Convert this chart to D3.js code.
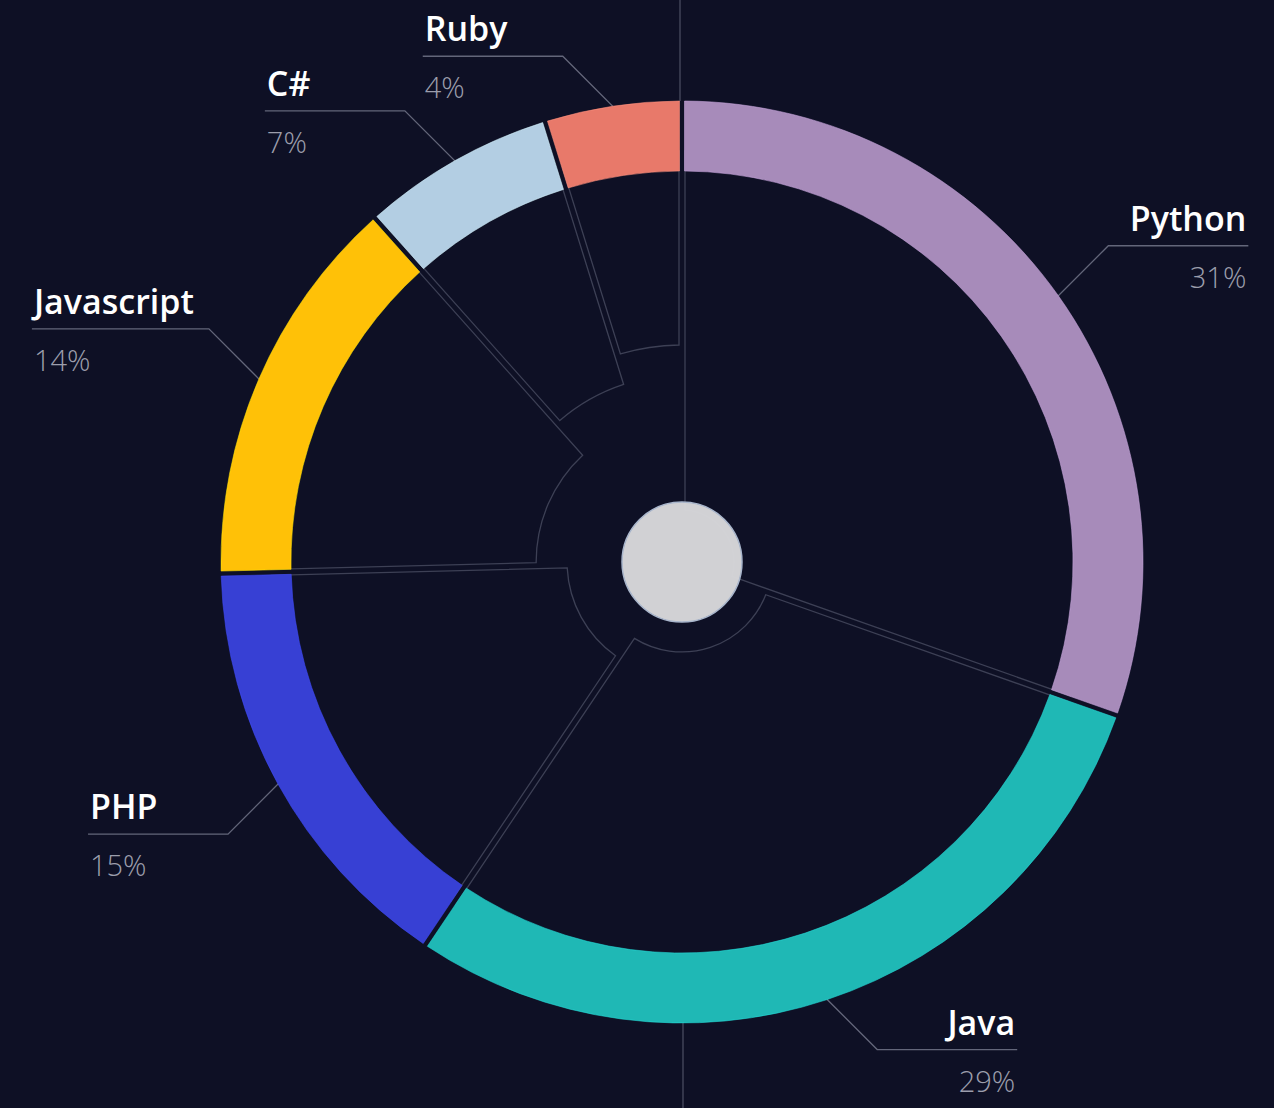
<!DOCTYPE html>
<html>
<head>
<meta charset="utf-8">
<script src="https://cdn.jsdelivr.net/npm/d3@7"></script>
<style>
  html, body { margin: 0; padding: 0; background: #0e1025; }
  #container { width: 1274px; height: 1108px; }
</style>
</head>
<body>
<div id="container"></div>
<script>
// data
const languages = ["Python", "Java", "PHP", "Javascript", "C#", "Ruby"];
const shares = [30.4, 29.0, 15.2, 13.8, 6.8, 4.8];
const shareLabels = ["31%", "29%", "15%", "14%", "7%", "4%"];
// depth of each inner wedge, in % of the ring's inner radius
const depths = [13.3, 23.0, 29.4, 37.3, 47.8, 55.5];
const palette = ["#a78bba", "#1fb8b5", "#3740d4", "#ffc107", "#b3cee3", "#e8796a"];

const width = 1274;
const height = 1108;
const rootElem = d3.select("#container").node();
renderDonut(rootElem, width, height);

function renderDonut(rootElem, width, height) {
  // settings
  const bg = "#0e1025";
  const cx = 682, cy = 562;
  const outerRadius = 461;
  const ringWidth = 70;
  const innerRadius = outerRadius - ringWidth;
  const hubRadius = 60;
  const gap = 5;

  const data = languages.map((name, i) => ({
    name, value: shares[i], label: shareLabels[i], depth: depths[i]
  }));

  const svg = d3.select(rootElem)
    .append("svg")
    .attr("width", width)
    .attr("height", height)
    .style("background", bg)
    .style("display", "block");

  // scales
  const scaleColor = d3.scaleOrdinal()
    .domain(languages)
    .range(palette);
  const scaleDepth = d3.scaleLinear()
    .domain([0, 100])
    .range([0, innerRadius]);

  const pie = d3.pie()
    .sort(null)
    .value(d => d.value);
  const arcs = pie(data);

  const ringArc = d3.arc()
    .innerRadius(innerRadius)
    .outerRadius(outerRadius)
    .padRadius(outerRadius)
    .padAngle(gap / outerRadius);
  const wedgeArc = d3.arc()
    .innerRadius(d => scaleDepth(d.data.depth))
    .outerRadius(innerRadius + 20)
    .padRadius(outerRadius)
    .padAngle(6 / outerRadius);

  // groups
  const groupAxis = svg.append("g").attr("class", "groupAxis");
  const groupLeaders = svg.append("g").attr("class", "groupLeaders");
  const groupWedges = svg.append("g").attr("class", "groupWedges")
    .attr("transform", `translate(${cx}, ${cy})`);
  const groupRing = svg.append("g").attr("class", "groupRing")
    .attr("transform", `translate(${cx}, ${cy})`);
  const groupLabels = svg.append("g").attr("class", "groupLabels");

  // vertical guide above and below the ring
  groupAxis.selectAll("line")
    .data([[0, cy - outerRadius], [cy + outerRadius, height]])
    .join("line")
    .attr("x1", (d, i) => cx - 2 + i * 3)
    .attr("x2", (d, i) => cx - 2 + i * 3)
    .attr("y1", d => d[0])
    .attr("y2", d => d[1])
    .attr("stroke", "#4d5064")
    .attr("stroke-width", 1.2);

  // inner wedges, outline only
  groupWedges.selectAll("path")
    .data(arcs)
    .join("path")
    .attr("d", wedgeArc)
    .attr("fill", bg)
    .attr("stroke", "#3d4055")
    .attr("stroke-width", 1.3);

  // ring
  groupRing.selectAll("path")
    .data(arcs)
    .join("path")
    .attr("d", ringArc)
    .attr("fill", d => scaleColor(d.data.name))
    .attr("stroke", d => d3.color(scaleColor(d.data.name)).brighter(0.5))
    .attr("stroke-opacity", 0.55)
    .attr("stroke-width", 1);

  // hub
  groupRing.append("circle")
    .attr("r", hubRadius)
    .attr("fill", "#d5d5d8")
    .attr("fill-opacity", 0.98)
    .attr("stroke", "#a9b6cc")
    .attr("stroke-width", 1.5);

  // labels with elbow leaders
  const diag = 50;
  const minRun = 140;
  arcs.forEach(d => {
    const a = (d.startAngle + d.endAngle) / 2;
    const sx = Math.sin(a) >= 0 ? 1 : -1;
    const sy = -Math.cos(a) >= 0 ? 1 : -1;
    const x0 = cx + outerRadius * Math.sin(a);
    const y0 = cy - outerRadius * Math.cos(a);
    const x1 = x0 + sx * diag;
    const y1 = y0 + sy * diag;

    const g = groupLabels.append("g");
    const name = g.append("text")
      .text(d.data.name)
      .attr("y", y1 - 15)
      .attr("fill", "#ffffff")
      .style("font-family", "'Open Sans', 'DejaVu Sans', sans-serif")
      .style("font-weight", 600)
      .style("font-size", "34px")
      .style("text-anchor", sx > 0 ? "end" : "start");
    const run = Math.max(minRun, name.node().getComputedTextLength() + 17);
    const x2 = x1 + sx * run;
    name.attr("x", x2 - sx * 2);

    g.append("text")
      .text(d.data.label)
      .attr("x", x2 - sx * 2)
      .attr("y", y1 + 42)
      .attr("fill", "#9c9eac")
      .style("font-family", "'Open Sans', 'DejaVu Sans', sans-serif")
      .style("font-weight", 300)
      .style("font-size", "29px")
      .style("text-anchor", sx > 0 ? "end" : "start");

    groupLeaders.append("polyline")
      .attr("points", `${cx + (outerRadius - 30) * Math.sin(a)},${cy - (outerRadius - 30) * Math.cos(a)} ${x0},${y0} ${x1},${y1} ${x2},${y1}`)
      .attr("fill", "none")
      .attr("stroke", "#63667a")
      .attr("stroke-width", 1.3);
  });
}
</script>
</body>
</html>
